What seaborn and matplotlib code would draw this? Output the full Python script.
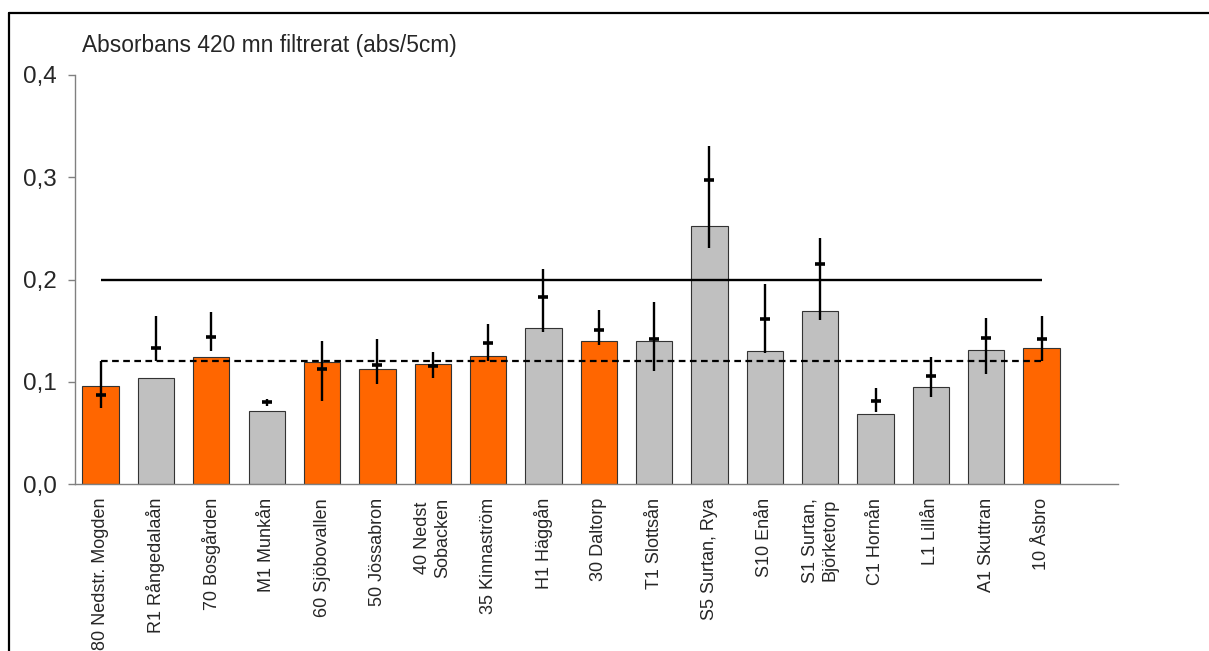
import pandas as pd
import seaborn as sns
import matplotlib.pyplot as plt
from matplotlib.lines import Line2D

# ================================== Data ==========================
stations = ["80 Nedstr. Mogden", "R1 Rångedalaån", "70 Bosgården", "M1 Munkån",
            "60 Sjöbovallen", "50 Jössabron", "40 Nedst\nSobacken", "35 Kinnaström",
            "H1 Häggån", "30 Daltorp", "T1 Slottsån", "S5 Surtan, Rya", "S10 Enån",
            "S1 Surtan,\nBjörketorp", "C1 Hornån", "L1 Lillån", "A1 Skuttran", "10 Åsbro"]
group = ["main", "trib", "main", "trib", "main", "main", "main", "main", "trib",
         "main", "trib", "trib", "trib", "trib", "trib", "trib", "trib", "main"]
bar_value = [0.096, 0.104, 0.124, 0.071, 0.119, 0.112, 0.117, 0.125, 0.153,
             0.140, 0.140, 0.252, 0.130, 0.169, 0.068, 0.095, 0.131, 0.133]
range_max = [0.120, 0.164, 0.168, 0.083, 0.140, 0.142, 0.129, 0.156, 0.210,
             0.170, 0.178, 0.331, 0.196, 0.241, 0.094, 0.124, 0.162, 0.164]
range_min = [0.074, 0.120, 0.130, 0.076, 0.081, 0.098, 0.104, 0.120, 0.149,
             0.136, 0.111, 0.231, 0.128, 0.160, 0.070, 0.085, 0.108, 0.120]
tick_value = [0.087, 0.133, 0.144, 0.080, 0.112, 0.116, 0.115, 0.138, 0.183,
              0.151, 0.142, 0.297, 0.161, 0.215, 0.081, 0.106, 0.143, 0.142]
limit_high = 0.2
limit_low = 0.12
y_ticks = [0.0, 0.1, 0.2, 0.3, 0.4]
y_labels = ["0,0", "0,1", "0,2", "0,3", "0,4"]
title = "Absorbans 420 mn filtrerat (abs/5cm)"

df = pd.DataFrame({"station": stations, "group": group, "value": bar_value,
                   "lo": range_min, "hi": range_max, "tick": tick_value})

# ================================== Plot ==========================
sns.set_theme(style="white")
plt.rcParams['font.family'] = ['Liberation Sans', 'DejaVu Sans']

fig = plt.figure(figsize=(12.09, 6.51), dpi=100)
ax = fig.add_axes([0.062, 0.2565, 0.8627, 0.6283])

sns.barplot(data=df, x="station", y="value", hue="group",
            palette={"main": "#FF6600", "trib": "#C0C0C0"}, dodge=False, saturation=1,
            width=0.656, edgecolor="#333333", linewidth=0.8, legend=False, ax=ax)

pos = list(range(len(df)))
ax.vlines(pos, df["lo"], df["hi"], color="black", linewidth=1.7, zorder=4)
ax.plot(pos, df["tick"], linestyle="none", marker="_", markersize=6.5,
        markeredgewidth=2.6, color="black", zorder=5)

ax.hlines(limit_high, pos[0], pos[-1], color="black", linewidth=1.7, zorder=3)
ax.hlines(limit_low, pos[0], pos[-1], color="black", linewidth=1.6,
          linestyles=(0, (3, 2)), zorder=3)

ax.set_xlim(-0.464, 18.38)
ax.set_ylim(0, 0.4)
ax.set_yticks(y_ticks)
ax.set_yticklabels(y_labels, fontsize=17.5)
ax.set_xticks(pos)
ax.set_xticklabels(stations, rotation=90, fontsize=13, va="top", ha="center",
                   multialignment="center")
ax.set_xlabel("")
ax.set_ylabel("")

for side in ["top", "right"]:
    ax.spines[side].set_visible(False)
for side in ["left", "bottom"]:
    ax.spines[side].set_color("#808080")
    ax.spines[side].set_linewidth(1.0)
ax.tick_params(axis="y", which="both", left=True, length=5, width=1,
               color="#808080", pad=8)
ax.tick_params(axis="x", which="both", bottom=False, pad=4)

fig.text(82 / 1209, 1 - 52 / 651, title, fontsize=16.4, ha="left", va="baseline")

# frame around the chart
fig.add_artist(Line2D([8.5 / 1209, 8.5 / 1209], [0, 1 - 13 / 651],
                      transform=fig.transFigure, color="black", linewidth=1.6))
fig.add_artist(Line2D([8.5 / 1209, 1], [1 - 13 / 651, 1 - 13 / 651],
                      transform=fig.transFigure, color="black", linewidth=1.6))

fig.savefig("out.png", dpi=100)
